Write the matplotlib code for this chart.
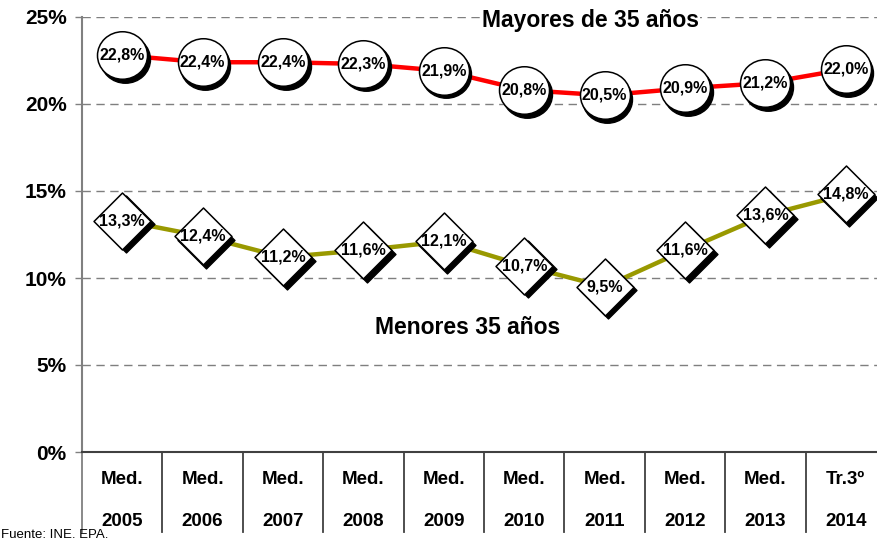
import numpy as np
import matplotlib
matplotlib.use("Agg")
import matplotlib.pyplot as plt
from matplotlib.path import Path
from matplotlib.transforms import ScaledTranslation, Affine2D, blended_transform_factory
from matplotlib.ticker import FuncFormatter, MultipleLocator

plt.rcParams['font.family'] = ['Liberation Sans', 'DejaVu Sans']

# Data
periods = ['Med.', 'Med.', 'Med.', 'Med.', 'Med.', 'Med.', 'Med.', 'Med.', 'Med.', 'Tr.3º']
years = ['2005', '2006', '2007', '2008', '2009', '2010', '2011', '2012', '2013', '2014']
mayores_35 = [22.8, 22.4, 22.4, 22.3, 21.9, 20.8, 20.5, 20.9, 21.2, 22.0]
menores_35 = [13.3, 12.4, 11.2, 11.6, 12.1, 10.7, 9.5, 11.6, 13.6, 14.8]

W, H, DPI = 877, 542, 100
fig = plt.figure(figsize=(W / DPI, H / DPI), dpi=DPI)
ax = fig.add_axes([82 / W, 90 / H, 804 / W, 435 / H])

x = np.arange(len(years))
ax.set_xlim(-0.5, len(years) - 0.5)
ax.set_ylim(0, 25)

# Axes styling
for s in ('top', 'right'):
    ax.spines[s].set_visible(False)
ax.spines['left'].set_color('#808080')
ax.spines['left'].set_linewidth(1.5)
ax.spines['bottom'].set_color('#404040')
ax.spines['bottom'].set_linewidth(1.5)

ax.yaxis.set_major_locator(MultipleLocator(5))
ax.yaxis.set_major_formatter(FuncFormatter(lambda v, p: f'{int(v)}%'))
ax.tick_params(axis='y', direction='out', length=5, width=1, color='#808080',
               labelsize=15, pad=6)
for lab in ax.get_yticklabels():
    lab.set_fontweight('bold')
ax.set_xticks([])
ax.yaxis.grid(True, linestyle=(0, (6, 4)), color='#7f7f7f', linewidth=1)
ax.set_axisbelow(True)

# Category separators and two-line category labels below the axis
trans = blended_transform_factory(ax.transData, ax.transAxes)
for b in np.arange(-0.5, len(years), 1.0):
    col = '#808080' if b < 0 else '#404040'
    ax.plot([b, b], [0, -80 / 435], transform=trans, color=col, lw=1.3,
            clip_on=False)
for i in x:
    ax.text(i, -28 / 435, periods[i], transform=trans, ha='center', va='center',
            fontsize=13.5, fontweight='bold')
    ax.text(i, -69 / 435, years[i], transform=trans, ha='center', va='center',
            fontsize=13.5, fontweight='bold')

# Lines
ax.plot(x, mayores_35, color='#ff0000', lw=3.2, zorder=2, clip_on=False)
ax.plot(x, menores_35, color='#999900', lw=3.2, zorder=2, clip_on=False)

# Marker shapes
ellipse = Affine2D().scale(1, 0.95).transform_path(Path.unit_circle())
diamond = Path([(0, 1), (1, 0), (0, -1), (-1, 0), (0, 1)],
               [Path.MOVETO, Path.LINETO, Path.LINETO, Path.LINETO, Path.CLOSEPOLY])

def px(dx, dy):
    return ScaledTranslation(dx / DPI, dy / DPI, fig.dpi_scale_trans)

# Shadows
ax.plot(x, mayores_35, ls='none', marker=ellipse, ms=36, mfc='black', mec='black',
        mew=1, transform=ax.transData + px(2.5, -3.5), zorder=4, clip_on=False)
ax.plot(x, menores_35, ls='none', marker=diamond, ms=41, mfc='black', mec='black',
        mew=1, transform=ax.transData + px(3.5, -3.5), zorder=4, clip_on=False)
# White markers
ax.plot(x, mayores_35, ls='none', marker=ellipse, ms=36, mfc='white', mec='black',
        mew=1.1, zorder=5, clip_on=False)
ax.plot(x, menores_35, ls='none', marker=diamond, ms=41, mfc='white', mec='black',
        mew=1.1, zorder=5, clip_on=False)

def fmt(v):
    return f'{v:.1f}'.replace('.', ',') + '%'

for xi, v in zip(x, mayores_35):
    ax.text(xi, v, fmt(v), ha='center', va='center', fontsize=11.5,
            fontweight='bold', zorder=6)
for xi, v in zip(x, menores_35):
    ax.text(xi, v, fmt(v), ha='center', va='center', fontsize=11.5,
            fontweight='bold', zorder=6)

# Series names
fig.text(590 / W, 1 - 20 / H, 'Mayores de 35 años', ha='center', va='center',
         fontsize=16.5, fontweight='bold',
         bbox=dict(facecolor='white', edgecolor='none', pad=1))
fig.text(468 / W, 1 - 328 / H, 'Menores 35 años', ha='center', va='center',
         fontsize=16.5, fontweight='bold')

# Source note
fig.text(1 / W, 1 / H, 'Fuente: INE. EPA.', ha='left', va='bottom',
         fontsize=9.5)

fig.savefig('out.png', dpi=DPI, facecolor='white')
